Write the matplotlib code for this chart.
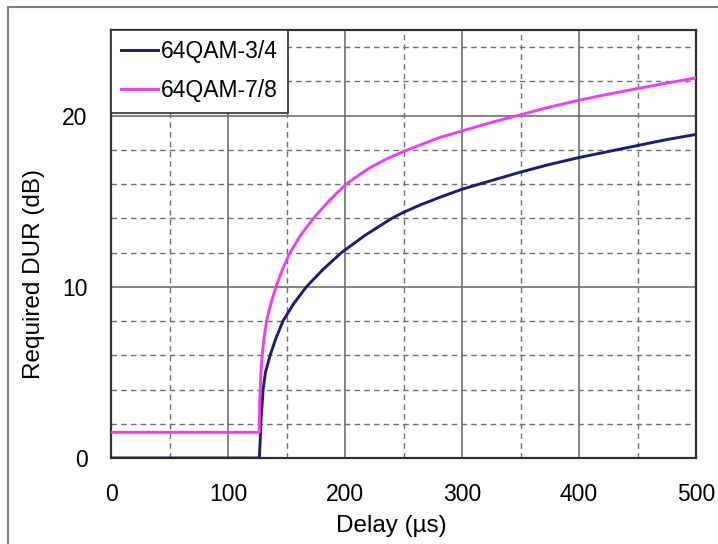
import numpy as np
import matplotlib
matplotlib.use("Agg")
import matplotlib.pyplot as plt
from matplotlib.lines import Line2D
from matplotlib.ticker import MultipleLocator

plt.rcParams['font.family'] = ['Liberation Sans', 'DejaVu Sans']

# values
delay_34 = [0, 126.8, 127.5, 128, 129, 130, 132, 136, 141, 147, 156, 167, 181, 197,
            217, 240, 250, 265, 280, 300, 325, 350, 375, 400, 425, 450, 475, 500]
dur_34 = [0, 0, 1, 2, 3, 4, 5, 6, 7, 8, 9, 10, 11, 12,
          13, 14, 14.35, 14.8, 15.2, 15.7, 16.2, 16.7, 17.15, 17.55, 17.9, 18.25, 18.6, 18.9]

delay_78 = [0, 126.8, 127, 127.5, 128.2, 129.2, 130.8, 133, 136.5, 141, 146.5, 153,
            162, 173, 186, 201, 220, 235, 250, 265, 280, 300, 325, 350, 375, 400,
            425, 450, 475, 500]
dur_78 = [1.5, 1.5, 3, 4, 5, 6, 7, 8, 9, 10, 11, 12,
          13, 14, 15, 16, 16.9, 17.45, 17.9, 18.3, 18.7, 19.1, 19.6, 20.05, 20.5, 20.9,
          21.25, 21.58, 21.9, 22.2]

labels = ['64QAM-3/4', '64QAM-7/8']
colors = ['#1c1c78', '#f03cf0']

W, H = 718, 544
fig = plt.figure(figsize=(W / 100, H / 100), dpi=100)
ax = fig.add_axes([111 / W, 1 - 458 / H, (696 - 111) / W, (458 - 30) / H])

ax.plot(delay_34, dur_34, color=colors[0], lw=2.1, label=labels[0], zorder=3)
ax.plot(delay_78, dur_78, color=colors[1], lw=2.1, label=labels[1], zorder=3)

ax.set_xlim(0, 500)
ax.set_ylim(0, 25)
ax.xaxis.set_major_locator(MultipleLocator(100))
ax.xaxis.set_minor_locator(MultipleLocator(50))
ax.yaxis.set_major_locator(MultipleLocator(10))
ax.yaxis.set_minor_locator(MultipleLocator(2))
ax.grid(which='major', color='#707070', lw=1.2, ls='-')
ax.grid(which='minor', color='#707070', lw=1.0, ls=(0, (4, 3)))
ax.set_axisbelow(True)
ax.tick_params(which='both', length=0)
ax.tick_params(axis='x', labelsize=16.5, pad=18)
ax.tick_params(axis='y', labelsize=16.5, pad=17)
for s in ax.spines.values():
    s.set_color('#303030')
    s.set_linewidth(1.6)

ax.set_xlabel('Delay (\u00b5s)', fontsize=17.5)
ax.set_ylabel('Required DUR (dB)', fontsize=17.5)
ax.xaxis.set_label_coords(0.48, -0.133)
ax.yaxis.set_label_coords(-0.113, 0.43)

leg = ax.legend(loc='upper left', borderaxespad=0, fancybox=False, framealpha=1,
                edgecolor='#303030', fontsize=16.5, handlelength=1.6,
                handletextpad=0.13, labelspacing=0.7, borderpad=0.45)
leg.get_frame().set_linewidth(1.2)

# frame lines at the top and left of the image
fig.add_artist(Line2D([8 / W, 8 / W], [0, 1 - 7 / H], transform=fig.transFigure,
                      color='#808080', lw=1.5))
fig.add_artist(Line2D([8 / W, 1], [1 - 7 / H, 1 - 7 / H], transform=fig.transFigure,
                      color='#808080', lw=1.5))

fig.savefig('out.png', dpi=100)
